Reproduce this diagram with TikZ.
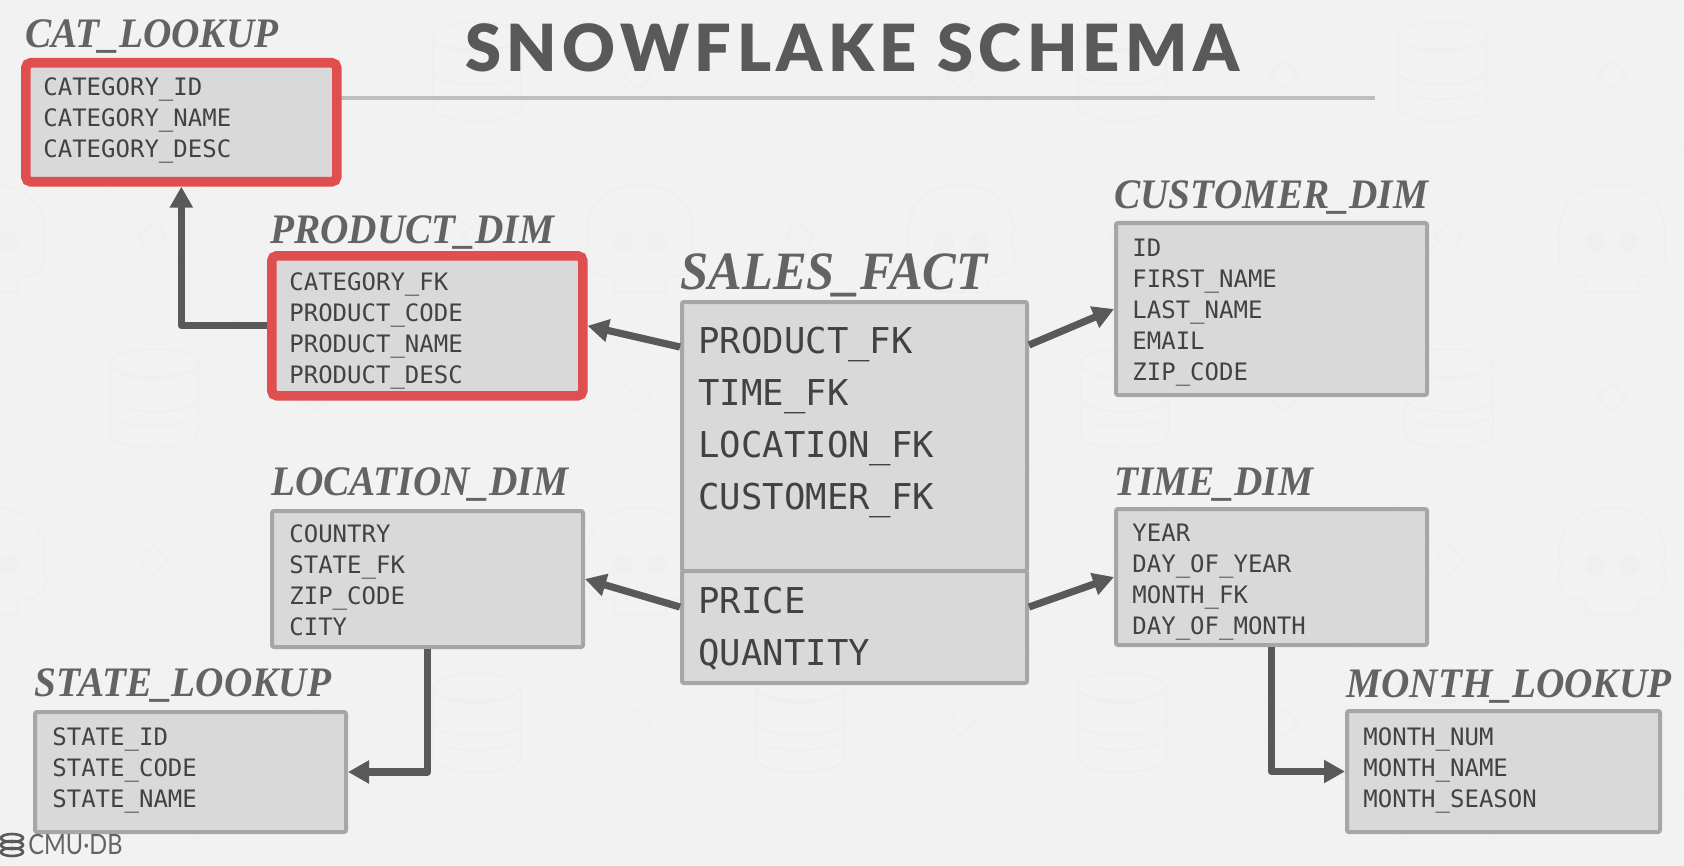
\documentclass[tikz,border=0pt]{standalone}
\usepackage{fontspec}
\usepackage{xcolor}
\usetikzlibrary{arrows.meta}
\setmainfont{Liberation Serif}
\newfontfamily\titlefont[FakeStretch=0.935]{Liberation Serif}
\newfontfamily\headfont[LetterSpace=8.4]{Lato Black}
\newfontfamily\logofont[FakeStretch=0.84]{Lato}
\newfontfamily\rowfont{DejaVu Sans Mono}
\definecolor{pagegray}{HTML}{F2F2F2}
\definecolor{markgray}{HTML}{EFEFEF}
\definecolor{inkgray}{HTML}{595959}
\definecolor{titlegray}{HTML}{636363}
\definecolor{rowgray}{HTML}{424242}
\definecolor{boxgray}{HTML}{D9D9D9}
\definecolor{edgegray}{HTML}{A6A6A6}
\definecolor{rulegray}{HTML}{BFBFBF}
\definecolor{alertred}{HTML}{DF4F4F}
\tikzset{
    tbl/.style={draw=edgegray,line width=2pt,fill=boxgray,rounded corners=1pt,anchor=north west,inner sep=0pt},
    redtbl/.style={tbl,draw=alertred,line width=4.8pt,rounded corners=2.5pt},
    tbltitle/.style={anchor=base west,inner sep=0pt,text=titlegray,font=\titlefont\fontsize{21}{24}\selectfont\bfseries\itshape},
    rows/.style={anchor=north west,inner sep=0pt,align=left,text=rowgray,font=\rowfont\fontsize{12}{15.5}\selectfont},
    bigrows/.style={rows,font=\rowfont\fontsize{17.8}{26}\selectfont},
    fk/.style={draw=inkgray,line width=3.6pt,line join=round,-{Triangle[length=10.5pt,width=11pt]}},
    wmark/.style={draw=markgray,line width=1pt}
}
\begin{document}
\begin{tikzpicture}[x=0.5pt,y=-0.5pt]
    \useasboundingbox (0,0) rectangle (1684,866);
    \fill[pagegray] (0,0) rectangle (1684,866);

    % watermark lattice
    \foreach \k in {-2,...,6} {
        \draw[markgray,line width=0.5pt] (153+323*\k-235,0) -- (153+323*\k+631,866);
        \draw[markgray,line width=0.5pt] (153+323*\k+235,0) -- (153+323*\k-631,866);
    }
    \foreach \mx/\my in {153/237,476/237,799/237,1122/237,1449/237,153/560,476/560,799/560,1122/560,1449/560,315/398,638/398,961/398,1284/398,1612/398,315/75,638/75,961/75,1284/75,1612/75,315/722,638/722,961/722,1284/722,1612/722} {
        \draw[wmark,fill=pagegray] (\mx-14,\my) -- (\mx,\my-14) -- (\mx+14,\my) -- (\mx,\my+14) -- cycle;
    }
    % watermark cylinders
    \foreach \cx/\cy in {477/71,1122/71,1442/71,154/398,1124/398,1449/398,477/722,800/722,1122/722,1442/722} {
        \begin{scope}[shift={(\cx,\cy)}]
            \draw[wmark] (0,-35) ellipse (44 and 14);
            \draw[wmark] (-44,-35) -- (-44,35) .. controls (-44,55) and (44,55) .. (44,35) -- (44,-35);
            \draw[wmark] (-44,0) .. controls (-44,18) and (44,18) .. (44,0);
            \draw[wmark] (-32,-24) .. controls (-15,-18) and (15,-18) .. (25,-24);
            \draw[wmark] (-32,24) .. controls (-15,30) and (15,30) .. (40,21);
        \end{scope}
    }
    % watermark skulls
    \foreach \sx/\sy in {-8/237,640/237,961/237,1612/237,-8/560,640/560,1612/560} {
        \begin{scope}[shift={(\sx,\sy)}]
            \draw[wmark] (-26,55) -- (-26,40) -- (-40,38) .. controls (-62,30) and (-50,10) .. (-52,0) .. controls (-62,-70) and (62,-70) .. (52,0) .. controls (50,10) and (62,30) .. (40,38) -- (26,40) -- (26,55) -- cycle;
            \fill[markgray] (-17,5) circle (10);
            \fill[markgray] (17,5) circle (10);
        \end{scope}
    }

    % heading
    \draw[draw=rulegray,line width=1.8pt] (300,98)--(1375,98);
    \node[anchor=base west,inner sep=0pt,text=inkgray,font=\headfont\fontsize{32.5}{36}\selectfont] (heading) at (465,72) {SNOWFLAKE SCHEMA};

    % fact table
    \node[tbl,minimum width=172.5pt,minimum height=134.5pt] (factkeys) at (680,300) {};
    \node[tbl,minimum width=172.5pt,minimum height=56pt] (factvals) at (680,569) {};
    \node[tbltitle,font=\titlefont\fontsize{27}{32}\selectfont\bfseries\itshape] (facttitle) at (680,289) {SALES\_FACT};
    \node[bigrows] (keyrows) at (698,327) {PRODUCT\_FK\\TIME\_FK\\LOCATION\_FK\\CUSTOMER\_FK};
    \node[bigrows] (valrows) at (698,587) {PRICE\\QUANTITY};

    % dimension tables
    \node[redtbl,minimum width=155.5pt,minimum height=59.5pt] (cat) at (21,58) {};
    \node[tbltitle] (cattitle) at (25,48) {CAT\_LOOKUP};
    \node[rows] (catrows) at (43,77) {CATEGORY\_ID\\CATEGORY\_NAME\\CATEGORY\_DESC};

    \node[redtbl,minimum width=155.5pt,minimum height=70pt] (product) at (267,251) {};
    \node[tbltitle] (producttitle) at (270,243) {PRODUCT\_DIM};
    \node[rows] (productrows) at (289,272) {CATEGORY\_FK\\PRODUCT\_CODE\\PRODUCT\_NAME\\PRODUCT\_DESC};

    \node[tbl,minimum width=155.5pt,minimum height=86pt] (customer) at (1114,221) {};
    \node[tbltitle] (customertitle) at (1114,209) {CUSTOMER\_DIM};
    \node[rows] (customerrows) at (1132,239) {ID\\FIRST\_NAME\\LAST\_NAME\\EMAIL\\ZIP\_CODE};

    \node[tbl,minimum width=155.5pt,minimum height=68pt] (location) at (270,509) {};
    \node[tbltitle] (locationtitle) at (271,495) {LOCATION\_DIM};
    \node[rows] (locationrows) at (289,524) {COUNTRY\\STATE\_FK\\ZIP\_CODE\\CITY};

    \node[tbl,minimum width=155.5pt,minimum height=68pt] (time) at (1114,507) {};
    \node[tbltitle] (timetitle) at (1114,495) {TIME\_DIM};
    \node[rows] (timerows) at (1132,524) {YEAR\\DAY\_OF\_YEAR\\MONTH\_FK\\DAY\_OF\_MONTH};

    \node[tbl,minimum width=155.5pt,minimum height=60pt] (state) at (33,710) {};
    \node[tbltitle] (statetitle) at (34,696) {STATE\_LOOKUP};
    \node[rows] (staterows) at (52,727) {STATE\_ID\\STATE\_CODE\\STATE\_NAME};

    \node[tbl,minimum width=156.5pt,minimum height=60.5pt] (month) at (1345,709) {};
    \node[tbltitle] (monthtitle) at (1346,697) {MONTH\_LOOKUP};
    \node[rows] (monthrows) at (1363,727) {MONTH\_NUM\\MONTH\_NAME\\MONTH\_SEASON};

    % links
    \coordinate (outproduct) at (680,347);
    \coordinate (outcustomer) at (1029,345);
    \coordinate (outlocation) at (680,607);
    \coordinate (outtime) at (1029,607);
    \draw[fk] (outproduct)--(product.east);
    \draw[fk] (outcustomer)--(customer.west);
    \draw[fk] (outlocation)--(location.east);
    \draw[fk] (outtime)--(time.west);
    \draw[fk] (product.west) -| (cat.south);
    \draw[fk] (location.south) |- (state.east);
    \draw[fk] (time.south) |- (month.west);

    % logo
    \foreach \ly in {838,845,852} {
        \draw[inkgray,line width=1.3pt] (12,\ly) ellipse (11 and 4);
    }
    \node[anchor=base west,inner sep=0pt,text=titlegray,font=\logofont\fontsize{14}{16}\selectfont] (logo) at (28,854) {CMU·DB};
\end{tikzpicture}
\end{document}
